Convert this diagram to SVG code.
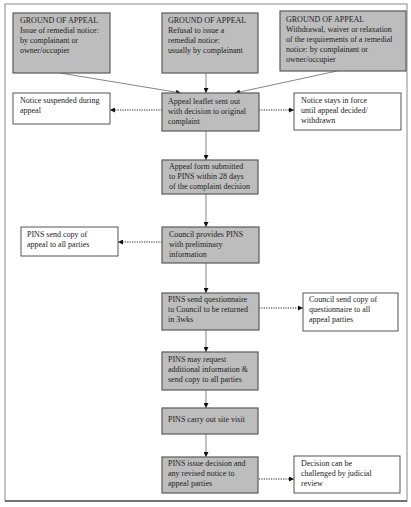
<svg xmlns="http://www.w3.org/2000/svg" width="411" height="507" viewBox="0 0 411 507">
<style>
text{font-family:"Liberation Serif","Times New Roman",serif;font-size:8px;fill:#222}
.g{fill:#bdbdbd;stroke:#5a5a5a;stroke-width:1.2}
.w{fill:#fff;stroke:#555;stroke-width:1}
.s{stroke:#777;stroke-width:0.9;fill:none}
.d{stroke:#222;stroke-width:1;stroke-dasharray:1.2 1.2;fill:none}
</style>
<defs>
<marker id="ah" markerWidth="5" markerHeight="5" refX="5" refY="2.5" orient="auto" markerUnits="userSpaceOnUse">
<path d="M0,0 L5,2.5 L0,5 Z" fill="#111"/>
</marker>
</defs>
<rect x="0" y="0" width="411" height="507" fill="#fff"/>
<rect x="5" y="4" width="402" height="497" fill="none" stroke="#8a8a8a" stroke-width="1"/>
<line x1="5" y1="501" x2="407" y2="501" stroke="#222" stroke-width="1.2"/>
<g id="connectors">
<line class="s" x1="60" y1="73" x2="181" y2="93" marker-end="url(#ah)"/>
<line class="s" x1="206" y1="73" x2="206" y2="93" marker-end="url(#ah)"/>
<line class="s" x1="337" y1="71" x2="235" y2="93" marker-end="url(#ah)"/>
<line class="d" x1="162" y1="110" x2="110" y2="110" marker-end="url(#ah)"/>
<line class="d" x1="259" y1="110" x2="294" y2="110" marker-end="url(#ah)"/>
<line class="s" x1="206" y1="131" x2="206" y2="160" marker-end="url(#ah)"/>
<line class="s" x1="206" y1="194" x2="206" y2="227" marker-end="url(#ah)"/>
<line class="d" x1="162" y1="242" x2="118" y2="242" marker-end="url(#ah)"/>
<line class="s" x1="206" y1="263" x2="206" y2="293" marker-end="url(#ah)"/>
<line class="d" x1="259" y1="308" x2="303" y2="308" marker-end="url(#ah)"/>
<line class="s" x1="206" y1="330" x2="206" y2="352" marker-end="url(#ah)"/>
<line class="s" x1="206" y1="390" x2="206" y2="408" marker-end="url(#ah)"/>
<line class="s" x1="206" y1="434" x2="206" y2="457" marker-end="url(#ah)"/>
<line class="d" x1="259" y1="479" x2="294" y2="479" marker-end="url(#ah)"/>
</g>
<g id="ground1">
<rect class="g" x="13" y="13" width="97" height="60"/>
<text x="20" y="23">GROUND OF APPEAL</text>
<text x="20" y="33">Issue of remedial notice:</text>
<text x="20" y="43">by complainant or</text>
<text x="20" y="53">owner/occupier</text>
</g>
<g id="ground2">
<rect class="g" x="162" y="13" width="96" height="60"/>
<text x="168" y="23">GROUND OF APPEAL</text>
<text x="168" y="33">Refusal to issue a</text>
<text x="168" y="43">remedial notice:</text>
<text x="168" y="53">usually by complainant</text>
</g>
<g id="ground3">
<rect class="g" x="280" y="11" width="126" height="60" stroke="#333"/>
<text x="286" y="22">GROUND OF APPEAL</text>
<text x="286" y="32">Withdrawal, waiver or relaxation</text>
<text x="286" y="42">of the requirements of a remedial</text>
<text x="286" y="52">notice: by complainant or</text>
<text x="286" y="62">owner/occupier</text>
</g>
<g id="suspended">
<rect class="w" x="13" y="93" width="97" height="31"/>
<text x="20" y="103">Notice suspended during</text>
<text x="20" y="113">appeal</text>
</g>
<g id="leaflet">
<rect class="g" x="162" y="93" width="97" height="38"/>
<text x="168" y="104">Appeal leaflet sent out</text>
<text x="168" y="114">with decision to original</text>
<text x="168" y="124">complaint</text>
</g>
<g id="stays">
<rect class="w" x="294" y="93" width="107" height="37"/>
<text x="301" y="103">Notice stays in force</text>
<text x="301" y="113">until appeal decided/</text>
<text x="301" y="123">withdrawn</text>
</g>
<g id="form">
<rect class="g" x="162" y="160" width="96" height="34"/>
<text x="169" y="169">Appeal form submitted</text>
<text x="169" y="179">to PINS within 28 days</text>
<text x="169" y="189">of the complaint decision</text>
</g>
<g id="copyappeal">
<rect class="w" x="21" y="227" width="97" height="29"/>
<text x="27" y="237">PINS send copy of</text>
<text x="27" y="247">appeal to all parties</text>
</g>
<g id="council">
<rect class="g" x="162" y="227" width="97" height="36"/>
<text x="169" y="237">Council provides PINS</text>
<text x="169" y="247">with preliminary</text>
<text x="169" y="257">information</text>
</g>
<g id="questionnaire">
<rect class="g" x="162" y="293" width="97" height="37"/>
<text x="168" y="302">PINS send questionnaire</text>
<text x="168" y="312">to Council to be returned</text>
<text x="168" y="322">in 3wks</text>
</g>
<g id="councilcopy">
<rect class="w" x="303" y="293" width="95" height="38"/>
<text x="309" y="302">Council send copy of</text>
<text x="309" y="312">questionnaire to all</text>
<text x="309" y="322">appeal parties</text>
</g>
<g id="request">
<rect class="g" x="162" y="352" width="96" height="38"/>
<text x="168" y="362">PINS may request</text>
<text x="168" y="372">additional information &amp;</text>
<text x="168" y="382">send copy to all parties</text>
</g>
<g id="sitevisit">
<rect class="g" x="162" y="408" width="96" height="26"/>
<text x="168" y="422">PINS carry out site visit</text>
</g>
<g id="decision">
<rect class="g" x="162" y="457" width="96" height="36"/>
<text x="168" y="466">PINS issue decision and</text>
<text x="168" y="476">any revised notice to</text>
<text x="168" y="486">appeal parties</text>
</g>
<g id="judicial">
<rect class="w" x="294" y="456" width="106" height="37"/>
<text x="301" y="466">Decision can be</text>
<text x="301" y="476">challenged by judicial</text>
<text x="301" y="486">review</text>
</g>
</svg>
